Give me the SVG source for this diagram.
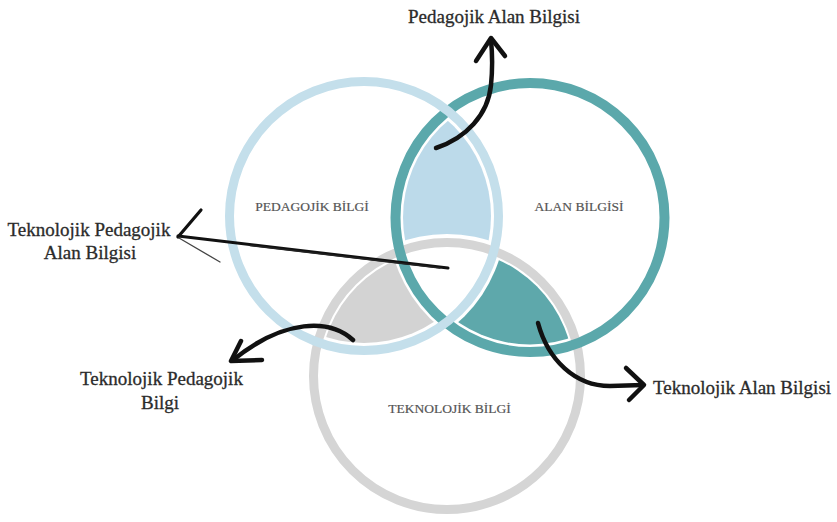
<svg xmlns="http://www.w3.org/2000/svg" width="837" height="522" viewBox="0 0 837 522">
  <style>
    .ring { fill: none; }
    .inner-label { font-family: "Liberation Serif", "Times New Roman", serif; font-size: 13.5px; fill: #555; stroke: #555; stroke-width: 0.2; text-anchor: middle; }
    .outer-label { font-family: "Liberation Serif", "Times New Roman", serif; font-size: 19px; fill: #2b2b2b; stroke: #2b2b2b; stroke-width: 0.3; text-anchor: middle; }
    .brush { fill: none; stroke: #111; stroke-width: 4.5; stroke-linecap: round; stroke-linejoin: round; }
  </style>
  <defs>
    <!-- inner discs (radius minus half stroke and a small white gap) -->
    <clipPath id="inP"><circle cx="364" cy="216" r="127"/></clipPath>
    <clipPath id="inA"><circle cx="530" cy="217.5" r="127"/></clipPath>
    <!-- exclusion masks (radius plus half stroke and gap) -->
    <mask id="notT"><rect width="837" height="522" fill="#fff"/><circle cx="447" cy="376" r="142" fill="#000"/></mask>
    <mask id="notA"><rect width="837" height="522" fill="#fff"/><circle cx="530" cy="217.5" r="142" fill="#000"/></mask>
    <mask id="notP"><rect width="837" height="522" fill="#fff"/><circle cx="364" cy="216" r="142" fill="#000"/></mask>
  </defs>
  <rect width="837" height="522" fill="#fff"/>

  <!-- overlap fills -->
  <g id="overlaps">
    <g clip-path="url(#inP)" mask="url(#notT)"><circle cx="530" cy="217.5" r="127" fill="#bcdaea"/></g>
    <g clip-path="url(#inP)" mask="url(#notA)"><circle cx="447" cy="376" r="127" fill="#d3d3d3"/></g>
    <g clip-path="url(#inA)" mask="url(#notP)"><circle cx="447" cy="376" r="127" fill="#5ea8ab"/></g>
  </g>

  <g id="teknolojik-bilgi">
    <circle class="ring" cx="447" cy="376" r="133.5" stroke="#d5d5d5" stroke-width="9"/>
    <text class="inner-label" x="449.5" y="413">TEKNOLOJİK BİLGİ</text>
  </g>
  <g id="alan-bilgisi">
    <circle class="ring" cx="530" cy="217.5" r="134.5" stroke="#5ba8ab" stroke-width="10"/>
    <text class="inner-label" x="579" y="211">ALAN BİLGİSİ</text>
  </g>
  <g id="pedagojik-bilgi">
    <circle class="ring" cx="364" cy="216" r="134.5" stroke="#c4dfeb" stroke-width="9"/>
    <text class="inner-label" x="312" y="211">PEDAGOJİK BİLGİ</text>
  </g>

  <g id="pedagojik-alan-bilgisi">
    <text class="outer-label" x="494" y="23">Pedagojik Alan Bilgisi</text>
  </g>
  <g id="teknolojik-pedagojik-alan-bilgisi">
    <text class="outer-label" x="89" y="236">Teknolojik Pedagojik</text>
    <text class="outer-label" x="90" y="259">Alan Bilgisi</text>
  </g>
  <g id="teknolojik-pedagojik-bilgi">
    <text class="outer-label" x="161.5" y="385">Teknolojik Pedagojik</text>
    <text class="outer-label" x="160" y="409">Bilgi</text>
  </g>
  <g id="teknolojik-alan-bilgisi">
    <text class="outer-label" x="742" y="394">Teknolojik Alan Bilgisi</text>
  </g>

  <!-- hand-drawn pointers -->
  <g id="connectors">
    <path class="brush" d="M436,148 C466,138 488,115 491,85 C493,65 492,50 491,40"/>
    <path class="brush" d="M476,61 L491,38 L505,56"/>

    <path d="M448,268 L178,236" fill="none" stroke="#111" stroke-width="3" stroke-linecap="round"/>
    <path d="M440,268 L250,245.5" fill="none" stroke="#222" stroke-width="1.5" stroke-linecap="round"/>
    <path d="M201,210 L178,237" fill="none" stroke="#111" stroke-width="3.2" stroke-linecap="round"/>
    <path d="M179,238 L220,262" fill="none" stroke="#444" stroke-width="1.3" stroke-linecap="round"/>

    <path class="brush" d="M353,340 C330,319 285,318 233,360"/>
    <path class="brush" d="M241,341 L231,361 L262,360"/>

    <path class="brush" d="M538,323 C548,360 575,386 610,386 L643,385"/>
    <path class="brush" d="M626,368 L644,385 L629,400"/>
  </g>
</svg>
